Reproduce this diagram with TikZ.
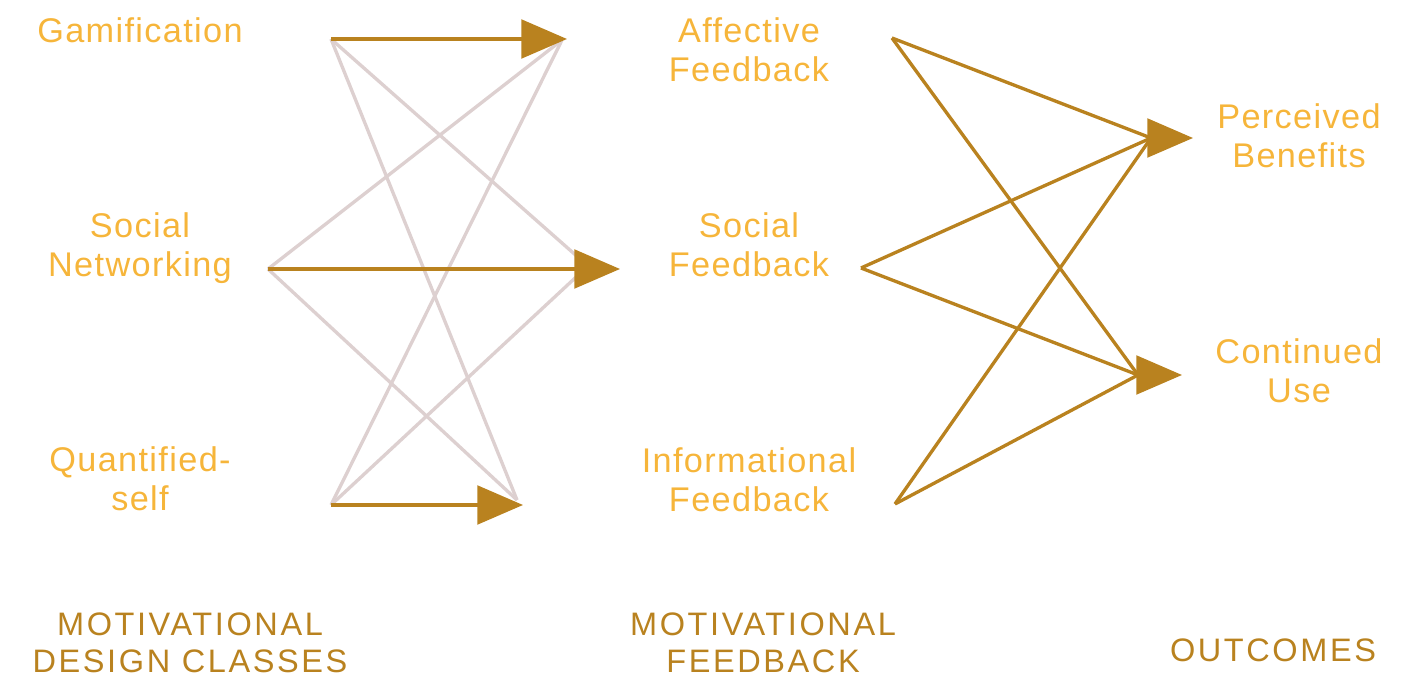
\documentclass[tikz,border=0pt]{standalone}
\usepackage{fontspec}
\setmainfont{Liberation Sans}
\newfontfamily\labelfont[LetterSpace=4]{Liberation Sans}
\newfontfamily\headfont[LetterSpace=8]{Liberation Sans}
\usetikzlibrary{arrows.meta}
\definecolor{textgold}{HTML}{F6B53A}
\definecolor{darkgold}{HTML}{B9821F}
\definecolor{greyline}{HTML}{DDD0D0}

\begin{document}
\begin{tikzpicture}[x=0.02cm,y=-0.02cm,
  lbl/.style={align=center, inner sep=0pt, text=textgold, font=\labelfont\fontsize{19.5}{22}\selectfont},
  head/.style={align=center, inner sep=0pt, text=darkgold, font=\headfont\fontsize{18.5}{21}\selectfont},
  link/.style={greyline, line width=1.9pt},
  path/.style={darkgold, line width=1.9pt},
  arr/.style={darkgold, line width=1.9pt, -{Triangle[length=26pt,width=22pt]}}]
\useasboundingbox (0,0) rectangle (1418,678);

% design classes
\node[lbl] (gam) at (140,30) {Gamification};
\node[lbl] (soc) at (140,248) {Social\\Networking};
\node[lbl] (qs) at (140,479) {Quantified-\\self};

% feedback
\node[lbl] (aff) at (749,50) {Affective\\Feedback};
\node[lbl] (sfb) at (749,245) {Social\\Feedback};
\node[lbl] (inf) at (749,480) {Informational\\Feedback};

% outcomes
\node[lbl] (ben) at (1299,136) {Perceived\\Benefits};
\node[lbl] (use) at (1299,371) {Continued\\Use};

\node[head] (hd1) at (190,643) {MOTIVATIONAL\\DESIGN CLASSES};
\node[head] (hd2) at (763,643) {MOTIVATIONAL\\FEEDBACK};
\node[head] (hd3) at (1273,650) {OUTCOMES};

% anchor points
\coordinate (gamS) at (331,39);
\coordinate (gamT) at (567,39);
\coordinate (gamG) at (562,40);
\coordinate (socS) at (268,269);
\coordinate (socT) at (620,269);
\coordinate (socG) at (588,266);
\coordinate (qsS) at (331,505);
\coordinate (qsT) at (523,505);
\coordinate (qsG) at (517,500);
\coordinate (affS) at (892,38);
\coordinate (sfbS) at (861,268);
\coordinate (infS) at (895,504);
\coordinate (benB) at (1151,138);
\coordinate (benT) at (1193,138);
\coordinate (useB) at (1138,375);
\coordinate (useT) at (1182,375);

% cross links
\draw[link] (gamS) -- (socG);
\draw[link] (gamS) -- (qsG);
\draw[link] (socS) -- (gamG);
\draw[link] (socS) -- (qsG);
\draw[link] (qsS) -- (gamG);
\draw[link] (qsS) -- (socG);

\draw[arr] (gamS) -- (gamT);
\draw[arr] (socS) -- (socT);
\draw[arr] (qsS) -- (qsT);

\draw[path] (affS) -- (benB);
\draw[path] (affS) -- (useB);
\draw[path] (sfbS) -- (benB);
\draw[path] (sfbS) -- (useB);
\draw[path] (infS) -- (benB);
\draw[path] (infS) -- (useB);
\draw[arr] (benB) -- (benT);
\draw[arr] (useB) -- (useT);

\end{tikzpicture}
\end{document}
